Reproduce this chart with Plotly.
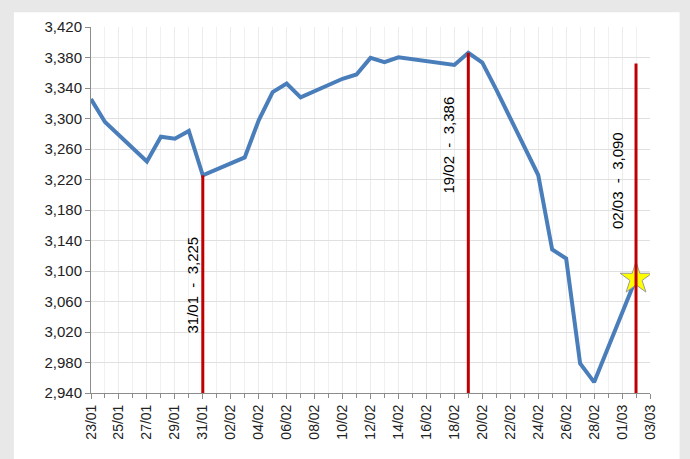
import plotly.graph_objects as go

dates = ["2020-01-23", "2020-01-24", "2020-01-27", "2020-01-28", "2020-01-29", "2020-01-30",
         "2020-01-31", "2020-02-03", "2020-02-04", "2020-02-05", "2020-02-06", "2020-02-07",
         "2020-02-10", "2020-02-11", "2020-02-12", "2020-02-13", "2020-02-14", "2020-02-18",
         "2020-02-19", "2020-02-20", "2020-02-21", "2020-02-24", "2020-02-25", "2020-02-26",
         "2020-02-27", "2020-02-28", "2020-03-02"]
values = [3325.5, 3295.5, 3243.6, 3276.2, 3273.4, 3283.7,
          3225.5, 3248.9, 3297.6, 3334.7, 3345.8, 3327.7,
          3352.1, 3357.8, 3379.5, 3373.9, 3380.2, 3370.3,
          3386.2, 3373.2, 3337.8, 3225.9, 3128.2, 3116.4,
          2978.8, 2954.2, 3090.2]

marker_dates = ["2020-01-31", "2020-02-19", "2020-03-02"]
marker_labels = ["31/01  -  3,225", "19/02  -  3,386", "02/03  -  3,090"]
marker_line_tops = [3225.5, 3386.2, 3372.0]
marker_label_y = [3082, 3265, 3218]
marker_label_shift = [-10, -20, -19]

y_min, y_max, y_step = 2940, 3420, 40
x_start, x_end = "2020-01-23", "2020-03-03"

fig = go.Figure()
fig.add_trace(go.Scatter(
    x=dates, y=values, mode="lines",
    line=dict(color="#4a7ebb", width=4),
    showlegend=False, hoverinfo="skip"))
fig.add_trace(go.Scatter(
    x=[dates[-1]], y=[values[-1]], mode="markers",
    marker=dict(symbol="star", size=24, color="#ffff00", line=dict(color="#9a9a9a", width=1)),
    showlegend=False, hoverinfo="skip"))

# white panel
fig.add_shape(type="rect", xref="paper", yref="paper",
              x0=-0.138, x1=1.053, y0=-0.3, y1=1.04,
              fillcolor="white", line=dict(width=0), layer="below")

for d, top, lab, ly, sh in zip(marker_dates, marker_line_tops, marker_labels, marker_label_y, marker_label_shift):
    fig.add_shape(type="line", xref="x", yref="y", x0=d, x1=d, y0=y_min, y1=top,
                  line=dict(color="#c00000", width=3))
    fig.add_annotation(x=d, y=ly, xref="x", yref="y", text=lab, textangle=-90,
                       showarrow=False, xshift=sh,
                       font=dict(family="Liberation Sans", size=15, color="#000000"))

fig.update_layout(
    width=690, height=459,
    margin=dict(l=91, r=40, t=27, b=66),
    paper_bgcolor="#e8e8e8", plot_bgcolor="white",
    font=dict(family="Liberation Sans", size=14, color="#222222"),
)
fig.update_xaxes(
    type="date", range=[x_start, x_end],
    tick0=x_start, dtick=2 * 86400000, tickformat="%d/%m", tickangle=-90,
    showgrid=True, gridcolor="#ececec", gridwidth=1,
    showline=True, linecolor="#8c8c8c", linewidth=1,
    ticks="outside", ticklen=5, tickcolor="#8c8c8c",
    minor=dict(dtick=86400000, tick0=x_start, ticks="outside", ticklen=4, tickcolor="#8c8c8c",
               showgrid=True, gridcolor="#f0f0f0"),
    tickfont=dict(size=14, color="#222222"),
    zeroline=False,
)
fig.update_yaxes(
    range=[y_min, y_max], tick0=y_min, dtick=y_step, tickformat=",d",
    showgrid=True, gridcolor="#e0e0e0", gridwidth=1,
    showline=True, linecolor="#8c8c8c", linewidth=1,
    ticks="outside", ticklen=5, tickcolor="#8c8c8c",
    tickfont=dict(size=15, color="#222222"),
    zeroline=False,
)

fig.write_html("out.html")
